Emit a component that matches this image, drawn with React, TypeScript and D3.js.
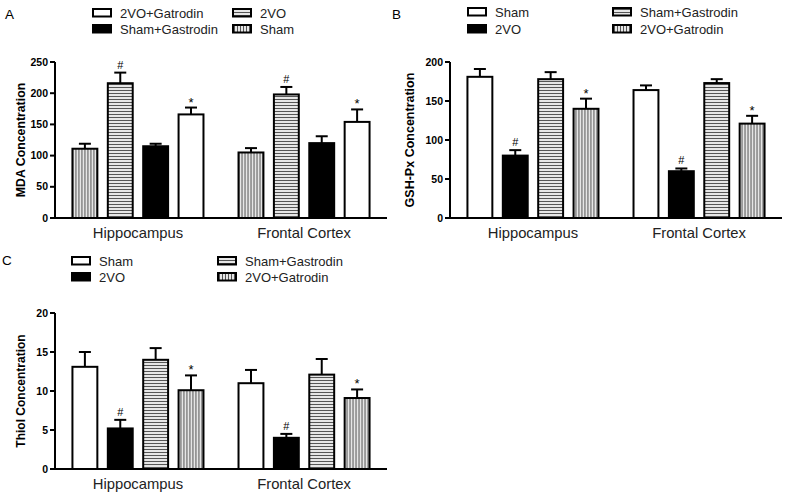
import React from "react";
import * as d3 from "d3";

const categories = ["Hippocampus", "Frontal Cortex"];
const groups = ["Sham", "2VO", "Sham+Gastrodin", "2VO+Gatrodin"];
const signif = ["", "#", "", "*"];

// A: MDA
const mdaMean = [[111, 216, 115, 166], [105, 198, 120, 154]];
const mdaSem = [[8, 17, 4, 11], [7, 12, 11, 20]];
const mdaTicks = [0, 50, 100, 150, 200, 250];

// B: GSH-Px
const gshMean = [[181, 80, 178, 140], [164, 60, 173, 121]];
const gshSem = [[10, 7, 9, 13], [6, 3.5, 5, 10]];
const gshTicks = [0, 50, 100, 150, 200];

// C: Thiol
const thiolMean = [[13.1, 5.2, 14, 10.1], [11, 4, 12.1, 9.1]];
const thiolSem = [[1.9, 1.1, 1.5, 1.9], [1.7, 0.5, 2, 1.1]];
const thiolTicks = [0, 5, 10, 15, 20];

const FONT = "'Liberation Sans', Arial, sans-serif";

const fillFor = (k: string) =>
  k === "black" ? "#000" : k === "white" ? "#fff" : k === "horiz" ? "url(#hstripe)" : "url(#vstripe)";

type PanelProps = {
  ox: number;
  oy: number;
  label: string;
  labelPos: [number, number];
  yLabel: string;
  yLabelX: number;
  yLabelSize: number;
  ticks: number[];
  means: number[][];
  sems: number[][];
  styles: string[];
  legendRows: string[][];
  legendX: number[];
  legendY: number[];
};

function Panel(p: PanelProps) {
  const left = 55, right = 387, top = 62, bottom = 218;
  const yMax = p.ticks[p.ticks.length - 1];
  const y = d3.scaleLinear().domain([0, yMax]).range([bottom, top]);
  const x0 = d3.scaleBand().domain(categories).range([left, right]).paddingInner(0.211).paddingOuter(0.105);
  const x1 = d3.scaleBand().domain(groups).range([0, x0.bandwidth()]).paddingInner(0.296).paddingOuter(0);
  const bw = x1.bandwidth();

  return (
    <g transform={`translate(${p.ox},${p.oy})`}>
      <text x={p.labelPos[0]} y={p.labelPos[1]} fontSize={13.5} fontFamily={FONT}>{p.label}</text>
      {/* legend */}
      {p.legendRows.map((row, ri) =>
        row.map((name, ci) => {
          const gi = groups.indexOf(name);
          return (
            <g key={name}>
              <rect x={p.legendX[ci]} y={p.legendY[ri]} width={18} height={7.5} fill={fillFor(p.styles[gi])} stroke="#000" strokeWidth={2} />
              <text x={p.legendX[ci] + 27} y={p.legendY[ri] + 8.5} fontSize={13} fontFamily={FONT} fill="#222">{name}</text>
            </g>
          );
        })
      )}
      {/* y axis */}
      <line x1={left} x2={left} y1={y(yMax)} y2={bottom} stroke="#000" strokeWidth={2} />
      {p.ticks.map((t) => (
        <g key={t}>
          <line x1={left - 5} x2={left} y1={y(t)} y2={y(t)} stroke="#000" strokeWidth={2} />
          <text x={left - 7} y={y(t)} dy="0.35em" textAnchor="end" fontSize={10.5} fontWeight="bold" fontFamily={FONT}>{t}</text>
        </g>
      ))}
      <text transform={`translate(${p.yLabelX},${(top + bottom) / 2}) rotate(-90)`} textAnchor="middle" fontSize={p.yLabelSize} fontWeight="bold" fontFamily={FONT}>{p.yLabel}</text>
      {/* bars */}
      {categories.map((c, ci) => (
        <g key={c} transform={`translate(${x0(c)},0)`}>
          {groups.map((g, gi) => {
            const m = p.means[ci][gi];
            const e = m + p.sems[ci][gi];
            const bx = x1(g)!;
            const cx = bx + bw / 2;
            const mark = signif[gi];
            return (
              <g key={g}>
                <line x1={cx} x2={cx} y1={y(m)} y2={y(e)} stroke="#000" strokeWidth={2} />
                <line x1={cx - 6} x2={cx + 6} y1={y(e)} y2={y(e)} stroke="#000" strokeWidth={2} />
                <rect x={bx} y={y(m)} width={bw} height={bottom - y(m)} fill={fillFor(p.styles[gi])} stroke="#000" strokeWidth={2} />
                {mark && (
                  <text x={cx} y={y(e) - (mark === "#" ? 4 : 1)} textAnchor="middle" fontSize={mark === "#" ? 11 : 13} fontFamily={FONT}>{mark}</text>
                )}
              </g>
            );
          })}
          <text x={x0.bandwidth() / 2} y={bottom + 19.5} textAnchor="middle" fontSize={14.8} fontFamily={FONT} fill="#222">{c}</text>
        </g>
      ))}
      {/* x axis */}
      <line x1={left} x2={right} y1={bottom} y2={bottom} stroke="#000" strokeWidth={2} />
    </g>
  );
}

export default function App() {
  return (
    <svg width={788} height={496} style={{ position: "absolute", left: 0, top: 0, background: "#fff" }}>
      <defs>
        <pattern id="hstripe" patternUnits="userSpaceOnUse" width={4} height={3}>
          <rect width={4} height={3} fill="#e6e6e6" />
          <line x1={0} x2={4} y1={0.5} y2={0.5} stroke="#555" strokeWidth={1} />
        </pattern>
        <pattern id="vstripe" patternUnits="userSpaceOnUse" width={3} height={4}>
          <rect width={3} height={4} fill="#e6e6e6" />
          <line x1={0.5} x2={0.5} y1={0} y2={4} stroke="#555" strokeWidth={1} />
        </pattern>
      </defs>
      <rect width={788} height={496} fill="#fff" />
      <Panel
        ox={0} oy={0} label="A" labelPos={[5, 19]}
        yLabel="MDA Concentration" yLabelX={25} yLabelSize={12.3}
        ticks={mdaTicks} means={mdaMean} sems={mdaSem}
        styles={["vert", "horiz", "black", "white"]}
        legendRows={[["2VO+Gatrodin", "2VO"], ["Sham+Gastrodin", "Sham"]]}
        legendX={[93, 233]} legendY={[9, 25]}
      />
      <Panel
        ox={395} oy={0} label="B" labelPos={[-3, 19]}
        yLabel="GSH-Px Concentration" yLabelX={19} yLabelSize={12.5}
        ticks={gshTicks} means={gshMean} sems={gshSem}
        styles={["white", "black", "horiz", "vert"]}
        legendRows={[["Sham", "Sham+Gastrodin"], ["2VO", "2VO+Gatrodin"]]}
        legendX={[73, 218]} legendY={[8, 25]}
      />
      <Panel
        ox={0} oy={251} label="C" labelPos={[2, 14]}
        yLabel="Thiol Concentration" yLabelX={25} yLabelSize={12}
        ticks={thiolTicks} means={thiolMean} sems={thiolSem}
        styles={["white", "black", "horiz", "vert"]}
        legendRows={[["Sham", "Sham+Gastrodin"], ["2VO", "2VO+Gatrodin"]]}
        legendX={[72, 218]} legendY={[6, 22]}
      />
    </svg>
  );
}
